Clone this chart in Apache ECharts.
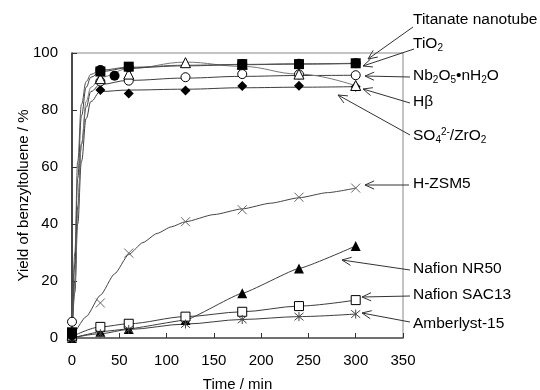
<!DOCTYPE html>
<html>
<head>
<meta charset="utf-8">
<script src="https://cdn.jsdelivr.net/npm/echarts@6/dist/echarts.min.js"></script>
<style>
  html, body { margin: 0; padding: 0; background: #fff; }
  #chart { width: 540px; height: 390px; }
</style>
</head>
<body>
<div id="chart"></div>
<script>
// measured points
const slowT = [0, 30, 60, 120, 180, 240, 300];
const titanateT = [0, 30, 45, 60, 180, 240, 300];
const titanateY = [1, 94, 92, 95, 96.1, 96.2, 96.4];
const tio2T = [0, 30, 60, 180, 240, 300];
const tio2Y = [2, 93.5, 95.2, 96.1, 96.1, 96.4];
const nbY = [5.7, 90, 90.3, 91.5, 92.6, 92.5, 92.2];
const hbY = [0.5, 87, 85.8, 86.8, 88.4, 88.5, 88.2];
const so4Y = [1, 91, 92.6, 96.6, 96, 92.6, 88.6];
const zsm5Y = [0, 12.3, 29.8, 40.8, 45, 49.4, 52.6];
const nr50Y = [0, 2.2, 3.2, 6.3, 15.7, 24.4, 32.3];
const sac13Y = [0.5, 3.9, 5, 7.5, 9.2, 11.2, 13.3];
const amberY = [0, 1.5, 3, 4.9, 6.5, 7.5, 8.4];

// fitted curves
const fitT = [0, 3, 6, 10, 15, 20, 30, 60, 120, 180, 240, 300];
const titanateFit = [0, 30, 62, 82, 90, 92.5, 94, 95, 95.7, 96, 96.2, 96.4];
const tio2Fit = [0, 26, 56, 78, 88, 91.5, 93.5, 94.8, 95.5, 95.9, 96.1, 96.3];
const so4Fit = [0, 18, 44, 68, 83, 88, 91.5, 94.5, 96.8, 95.3, 92.6, 88.5];
const nbFit = [0, 20, 46, 68, 81, 86.5, 89, 90.4, 91.2, 91.8, 92.1, 92.2];
const hbFit = [0, 16, 40, 62, 77, 83, 86.5, 87, 87.3, 87.8, 88, 88.2];
const zsm5FitT = [0, 15, 30, 45, 60, 75, 90, 105, 120, 150, 180, 210, 240, 270, 300];
const zsm5Fit = [0, 7.5, 15, 22.5, 29.3, 33.5, 36.7, 39, 40.8, 43.3, 45.3, 47.3, 49.2, 51, 52.6];

const xTicks = [0, 50, 100, 150, 200, 250, 300, 350];
const yTicks = [0, 20, 40, 60, 80, 100];

const zip = (t, y) => t.map((v, i) => [v, y[i]]);
const CROSS = 'path://M0,0L10,10M10,0L0,10';
const STAR = 'path://M0,0L10,10M10,0L0,10M5,-1L5,11';

const fitLine = (data, color, smooth) => ({
  type: 'line', data: data, smooth: smooth || 0.4, smoothMonotone: 'x', showSymbol: false,
  silent: true, z: 2,
  lineStyle: { color: color || '#3c3c3c', width: 1 }
});
const points = (data, symbol, size, fill, stroke, bw) => ({
  type: 'scatter', data: data, symbol: symbol, symbolSize: size, z: 4,
  itemStyle: { color: fill, borderColor: stroke, borderWidth: bw || 0, opacity: 1 }
});
const slowLine = (data, symbol, size, fill, stroke, bw, smooth) => ({
  type: 'line', data: data, smooth: smooth, smoothMonotone: 'x', symbol: symbol,
  symbolSize: size, showAllSymbol: true, z: 3,
  lineStyle: { color: '#3c3c3c', width: 1 },
  itemStyle: { color: fill, borderColor: stroke, borderWidth: bw || 0 }
});

const series = [
  fitLine(zip(fitT, hbFit)),
  fitLine(zip(fitT, nbFit)),
  fitLine(zip(fitT, so4Fit), '#777'),
  fitLine(zip(fitT, tio2Fit)),
  fitLine(zip(fitT, titanateFit), '#555'),
  fitLine(zip(zsm5FitT, zsm5Fit), '#444', 0.2),
  points(zip(slowT, zsm5Y), CROSS, 9, 'transparent', '#666', 1),
  slowLine(zip(slowT, nr50Y), 'triangle', 10, '#000', '#000', 0, 0.1),
  slowLine(zip(slowT, sac13Y), 'rect', 9, '#fff', '#000', 1, 0.3),
  slowLine(zip(slowT, amberY), STAR, 9, 'transparent', '#444', 1, 0.3),
  points(zip(slowT, hbY), 'diamond', 10, '#000', '#000'),
  points(zip(slowT, nbY), 'circle', 9, '#fff', '#000', 1),
  points(zip(slowT, so4Y), 'triangle', 10, '#fff', '#000', 1),
  points(zip(titanateT, titanateY), 'circle', 10, '#000', '#000'),
  points(zip(tio2T, tio2Y), 'rect', 10, '#000', '#000')
];

const FONT = '"Liberation Sans", Arial, sans-serif';
const sub = { fontSize: 10, fontFamily: FONT, color: '#000', padding: [9, 0, 0, 0] };
const sup = { fontSize: 10, fontFamily: FONT, color: '#000', padding: [0, 0, 7, 0] };
const base = { fontSize: 15.5, fontFamily: FONT, color: '#000' };

// label text, label centre y, arrow start and tip (px)
const notes = [
  ['{b|Titanate nanotube}', 21, [413, 27], [368, 59]],
  ['{b|TiO}{s|2}', 45, [414, 49], [363, 66]],
  ['{b|Nb}{s|2}{b|O}{s|5}{b|•nH}{s|2}{b|O}', 77, [410, 77], [365, 76]],
  ['{b|Hβ}', 103, [410, 103], [363, 89]],
  ['{b|SO}{s|4}{p|2-}{b|/ZrO}{s|2}', 136, [410, 135], [338, 95]],
  ['{b|H-ZSM5}', 185, [409, 185], [365, 185]],
  ['{b|Nafion NR50}', 270, [410, 270], [342, 260]],
  ['{b|Nafion SAC13}', 296, [410, 296], [362, 297]],
  ['{b|Amberlyst-15}', 325, [410, 322], [362, 313]]
];

const graphic = [];
notes.forEach(([txt, y, s, t]) => {
  graphic.push({
    type: 'text', left: 413, top: y - 9,
    style: { text: txt, rich: { b: base, s: sub, p: sup }, fill: '#000' }
  });
  graphic.push({
    type: 'line', shape: { x1: s[0], y1: s[1], x2: t[0], y2: t[1] },
    style: { stroke: '#333', lineWidth: 1 }
  });
  const a = Math.atan2(t[1] - s[1], t[0] - s[0]);
  const L = 10, w = 0.42;
  graphic.push({
    type: 'polyline',
    shape: { points: [
      [t[0] - L * Math.cos(a - w), t[1] - L * Math.sin(a - w)],
      t,
      [t[0] - L * Math.cos(a + w), t[1] - L * Math.sin(a + w)]
    ] },
    style: { stroke: '#333', lineWidth: 1, fill: null }
  });
});

const chart = echarts.init(document.getElementById('chart'), null, { renderer: 'canvas' });
chart.setOption({
  animation: false,
  backgroundColor: '#fff',
  textStyle: { fontFamily: FONT },
  grid: {
    left: 72, top: 53, right: 137, bottom: 52, show: true, borderColor: '#888', borderWidth: 1,
    containLabel: false, outerBoundsMode: 'none'
  },
  xAxis: {
    type: 'value', min: xTicks[0], max: xTicks[xTicks.length - 1], interval: 50,
    name: 'Time / min', nameLocation: 'middle', nameGap: 39, nameMoveOverlap: false,
    nameTextStyle: { fontSize: 15, color: '#000', fontFamily: FONT },
    axisLine: { show: true, lineStyle: { color: '#555', width: 1.5 } },
    axisTick: { show: true, inside: true, length: 5, lineStyle: { color: '#333' } },
    axisLabel: { fontSize: 15, color: '#000', margin: 15, fontFamily: FONT },
    splitLine: { show: false }
  },
  yAxis: {
    type: 'value', min: yTicks[0], max: yTicks[yTicks.length - 1], interval: 20,
    name: 'Yield of benzyltoluene / %', nameLocation: 'middle', nameGap: 41, nameMoveOverlap: false,
    nameTextStyle: { fontSize: 15, color: '#000', fontFamily: FONT },
    axisLine: { show: true, lineStyle: { color: '#222', width: 1.5 } },
    axisTick: { show: true, inside: true, length: 5, lineStyle: { color: '#333' } },
    axisLabel: { fontSize: 15, color: '#000', margin: 14, fontFamily: FONT },
    splitLine: { show: false }
  },
  series: series,
  graphic: graphic
});
</script>
</body>
</html>
